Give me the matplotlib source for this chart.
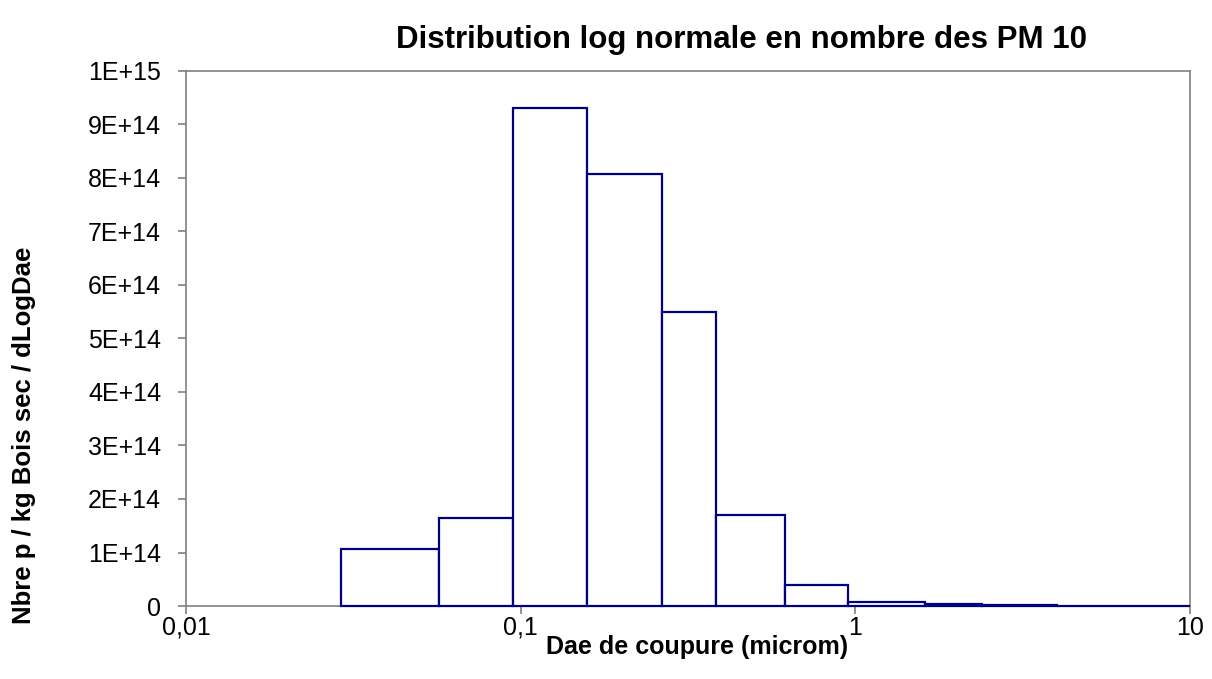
import matplotlib.pyplot as plt
from matplotlib.ticker import FixedLocator, NullLocator

plt.rcParams['font.family'] = ['Liberation Sans', 'DejaVu Sans']

# Bin edges (cut diameters, micrometres) and number distribution
edges = [0.029, 0.057, 0.095, 0.158, 0.264, 0.383, 0.617, 0.953,
         1.61, 2.39, 4.01, 6.70, 10.0]
counts = [1.06e14, 1.65e14, 9.30e14, 8.08e14, 5.50e14, 1.70e14, 3.9e13,
          7.5e12, 3.0e12, 1.2e12, 4.0e11, 2.0e11]

y_ticks = [0, 1e14, 2e14, 3e14, 4e14, 5e14, 6e14, 7e14, 8e14, 9e14, 1e15]
y_labels = ["0", "1E+14", "2E+14", "3E+14", "4E+14", "5E+14",
            "6E+14", "7E+14", "8E+14", "9E+14", "1E+15"]
x_ticks = [0.01, 0.1, 1, 10]
x_labels = ["0,01", "0,1", "1", "10"]

fig = plt.figure(figsize=(12.12, 6.79), dpi=100)
ax = fig.add_axes([0.1535, 0.1075, 0.8285, 0.788])

lefts = edges[:-1]
widths = [edges[i + 1] - edges[i] for i in range(len(lefts))]
ax.bar(lefts, counts, width=widths, align='edge', facecolor='white',
       edgecolor='#000080', linewidth=1.6, zorder=3, clip_on=False)

ax.set_xscale('log')
ax.set_xlim(0.01, 10)
ax.set_ylim(0, 1e15)
ax.xaxis.set_major_locator(FixedLocator(x_ticks))
ax.xaxis.set_minor_locator(NullLocator())
ax.set_xticklabels(x_labels)
ax.set_yticks(y_ticks)
ax.set_yticklabels(y_labels)

for s in ax.spines.values():
    s.set_color('#808080')
    s.set_linewidth(1.2)
ax.tick_params(axis='both', colors='#808080', labelcolor='black',
               labelsize=18, length=6, width=1.2, direction='out')
ax.tick_params(axis='y', pad=12)
ax.tick_params(axis='x', pad=1)

fig.text(0.6115, 0.941, "Distribution log normale en nombre des PM 10",
         ha='center', va='center', fontsize=22.5, fontweight='bold')
fig.text(0.5755, 0.047, "Dae de coupure (microm)", ha='center',
         va='center', fontsize=18, fontweight='bold')
fig.text(0.02, 0.359, "Nbre p / kg Bois sec / dLogDae", ha='center',
         va='center', rotation=90, fontsize=18.5, fontweight='bold')

fig.savefig("out.png", dpi=100)
